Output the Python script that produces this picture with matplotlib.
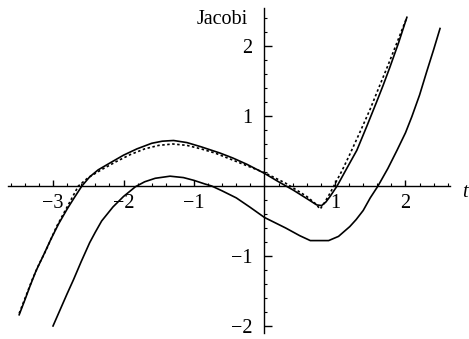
import numpy as np
import matplotlib
matplotlib.use("Agg")
import matplotlib.pyplot as plt
from matplotlib.ticker import FixedLocator, FixedFormatter

# Upper solid curve
t_a = [-3.48, -3.40, -3.33, -3.24, -3.14, -3.03, -2.92, -2.80, -2.70, -2.59, -2.48,
       -2.36, -2.19, -2.00, -1.81, -1.60, -1.45, -1.29, -1.10, -0.90, -0.63, -0.45,
       -0.25, 0.00, 0.20, 0.41, 0.60, 0.74, 0.81, 0.87, 0.93, 1.03, 1.15, 1.31,
       1.45, 1.59, 1.68, 1.78, 1.90, 2.02]
y_a = [-1.84, -1.63, -1.44, -1.21, -1.00, -0.76, -0.54, -0.33, -0.17, 0.00, 0.13,
       0.23, 0.33, 0.44, 0.53, 0.61, 0.64, 0.65, 0.62, 0.56, 0.47, 0.40,
       0.31, 0.18, 0.06, -0.06, -0.18, -0.27, -0.28, -0.23, -0.15, 0.00, 0.22, 0.51,
       0.85, 1.20, 1.43, 1.70, 2.04, 2.41]

# Dashed curve
t_b = [-3.48, -3.38, -3.30, -3.20, -3.10, -2.95, -2.80, -2.64, -2.50, -2.30, -2.10,
       -1.90, -1.70, -1.50, -1.30, -1.10, -0.90, -0.70, -0.50, -0.30, 0.00, 0.30,
       0.60, 0.72, 0.79, 0.85, 0.92, 1.00, 1.10, 1.20, 1.35, 1.50, 1.62, 1.75,
       1.88, 2.02]
y_b = [-1.82, -1.56, -1.35, -1.12, -0.92, -0.58, -0.30, 0.00, 0.12, 0.24, 0.35,
       0.45, 0.53, 0.58, 0.60, 0.58, 0.53, 0.47, 0.39, 0.31, 0.19, 0.04,
       -0.15, -0.25, -0.33, -0.24, -0.12, 0.03, 0.22, 0.43, 0.76, 1.10, 1.40, 1.72,
       2.05, 2.41]

# Lower solid curve
t_c = [-3.00, -2.90, -2.80, -2.71, -2.60, -2.48, -2.40, -2.31, -2.15, -2.00, -1.83,
       -1.70, -1.55, -1.34, -1.15, -1.00, -0.85, -0.75, -0.60, -0.40, -0.21, 0.00,
       0.30, 0.50, 0.65, 0.91, 1.05, 1.21, 1.30, 1.40, 1.50, 1.61, 1.75, 1.88,
       2.00, 2.09, 2.20, 2.30, 2.40, 2.49]
y_c = [-2.00, -1.77, -1.54, -1.34, -1.08, -0.81, -0.66, -0.50, -0.30, -0.15, -0.01,
       0.06, 0.11, 0.14, 0.12, 0.08, 0.03, 0.00, -0.07, -0.17, -0.30, -0.45,
       -0.60, -0.71, -0.78, -0.78, -0.72, -0.58, -0.48, -0.35, -0.17, 0.00, 0.25, 0.51,
       0.76, 0.99, 1.30, 1.63, 1.95, 2.25]

x_major = [-3, -2, -1, 1, 2]
x_labels = ["\u22123", "\u22122", "\u22121", "1", "2"]
y_major = [-2, -1, 1, 2]
y_labels = ["\u22122", "\u22121", "1", "2"]

serif = ["Liberation Serif", "DejaVu Serif"]
plt.rcParams["font.family"] = serif

fig = plt.figure(figsize=(4.69, 3.39), dpi=100)
ax = fig.add_axes([0, 0, 1, 1])
ax.set_xlim(-3.752, 2.901)
ax.set_ylim(-2.186, 2.657)
ax.patch.set_alpha(0)

ax.plot(t_a, y_a, color="black", lw=1.2, solid_joinstyle="round")
ax.plot(t_b, y_b, color="black", lw=1.2, ls=(0, (1.5, 1.5)))
ax.plot(t_c, y_c, color="black", lw=1.2, solid_joinstyle="round")

for s in ["top", "right"]:
    ax.spines[s].set_visible(False)
ax.spines["left"].set_position(("data", 0))
ax.spines["bottom"].set_position(("data", 0))
ax.spines["left"].set_bounds(-2.1, 2.54)
ax.spines["bottom"].set_bounds(-3.64, 2.63)
for s in ["left", "bottom"]:
    ax.spines[s].set_linewidth(1.0)

ax.xaxis.set_major_locator(FixedLocator(x_major))
ax.xaxis.set_major_formatter(FixedFormatter(x_labels))
ax.yaxis.set_major_locator(FixedLocator(y_major))
ax.yaxis.set_major_formatter(FixedFormatter(y_labels))
ax.xaxis.set_minor_locator(FixedLocator(np.round(np.arange(-3.6, 2.61, 0.2), 2)))
ax.yaxis.set_minor_locator(FixedLocator(np.round(np.arange(-2.0, 2.41, 0.2), 2)))

ax.tick_params(axis="x", which="major", direction="in", length=4.5, width=1.0,
               labelsize=14.5, pad=6)
ax.tick_params(axis="y", which="major", direction="in", length=5.5, width=1.0,
               labelsize=14.5, pad=8.5)
ax.tick_params(which="minor", direction="in", length=2, width=0.8)

fig.text(196.7 / 469, 1 - 24 / 339, "Jacobi", fontsize=14.5, ha="left", va="baseline")
fig.text(462 / 469, 1 - 197 / 339, "t", fontsize=14.5, ha="left", va="baseline",
         style="italic")

fig.savefig("out.png", dpi=100)
